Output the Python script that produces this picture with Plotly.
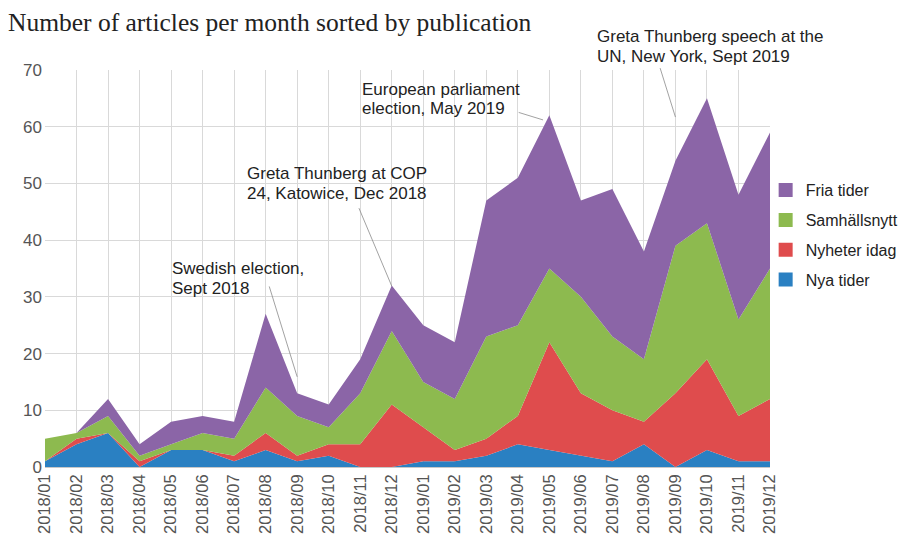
import plotly.graph_objects as go

months = ["2018/01", "2018/02", "2018/03", "2018/04", "2018/05", "2018/06",
          "2018/07", "2018/08", "2018/09", "2018/10", "2018/11", "2018/12",
          "2019/01", "2019/02", "2019/03", "2019/04", "2019/05", "2019/06",
          "2019/07", "2019/08", "2019/09", "2019/10", "2019/11", "2019/12"]

nya_tider = [1, 4, 6, 0, 3, 3, 1, 3, 1, 2, 0, 0, 1, 1, 2, 4, 3, 2, 1, 4, 0, 3, 1, 1]
nyheter_idag = [0, 1, 0, 1, 0, 0, 1, 3, 1, 2, 4, 11, 6, 2, 3, 5, 19, 11, 9, 4, 13, 16, 8, 11]
samhallsnytt = [4, 1, 3, 1, 1, 3, 3, 8, 7, 3, 9, 13, 8, 9, 18, 16, 13, 17, 13, 11, 26, 24, 17, 23]
fria_tider = [0, 0, 3, 2, 4, 3, 3, 13, 4, 4, 6, 8, 10, 10, 24, 26, 27, 17, 26, 19, 15, 22, 22, 24]

y_ticks = [0, 10, 20, 30, 40, 50, 60, 70]

series = [
    ("Nya tider", nya_tider, "#2A80C2"),
    ("Nyheter idag", nyheter_idag, "#DF4C4D"),
    ("Samhällsnytt", samhallsnytt, "#8DBA4F"),
    ("Fria tider", fria_tider, "#8B65A7"),
]

fig = go.Figure()
for name, vals, col in series:
    fig.add_trace(go.Scatter(
        x=months, y=vals, name=name, stackgroup="one", mode="lines",
        line=dict(width=0, color=col), fillcolor=col,
        showlegend=False, hoverinfo="x+y+name",
    ))
# legend entries with square swatches (top of stack listed first)
for name, vals, col in reversed(series):
    fig.add_trace(go.Scatter(
        x=[None], y=[None], name=name, mode="markers", legendgroup=name,
        marker=dict(symbol="square", size=14, color=col), showlegend=True,
    ))

text_font = dict(family="Liberation Sans, Arial, sans-serif", size=17, color="#222222")
line_col = "#8a8a8a"

def label(x, y, text, yref="y"):
    fig.add_annotation(x=x, y=y, xref="x", yref=yref, text=text, showarrow=False,
                       xanchor="left", yanchor="middle", align="left", font=text_font)

def pointer(x0, y0, x1, y1):
    fig.add_annotation(x=x1, y=y1, ax=x0, ay=y0, xref="x", yref="y", axref="x", ayref="y",
                       text="", showarrow=True, arrowhead=0, arrowwidth=0.8,
                       arrowcolor=line_col)

label(3.95, 35.0, "Swedish election,")
label(3.95, 31.48, "Sept 2018")
pointer(7.1, 32.1, 8.0, 15.9)
label(6.33, 51.67, "Greta Thunberg at COP")
label(6.33, 48.14, "24, Katowice, Dec 2018")
pointer(9.94, 45.9, 11.0, 31.9)
label(10.0, 66.65, "European parliament")
label(10.0, 63.13, "election, May 2019")
pointer(14.98, 62.6, 15.8, 61.2)
label(17.45, 1.0844, "Greta Thunberg speech at the", yref="paper")
label(17.45, 1.034, "UN, New York, Sept 2019", yref="paper")
pointer(19.5, 70.6, 20.0, 61.7)

fig.update_layout(
    width=899, height=533,
    margin=dict(l=37, r=137, t=62, b=74, autoexpand=False),
    paper_bgcolor="white", plot_bgcolor="white",
    title=dict(text="Number of articles per month sorted by publication",
               x=0.0, xanchor="left", y=0.9728, yanchor="middle", pad=dict(l=0, t=0, b=0, r=0),
               font=dict(family="Liberation Serif, Times New Roman, serif", size=25.5, color="#222222")),
    legend=dict(x=0.994, y=0.74, xanchor="left", yanchor="top", traceorder="grouped",
                font=dict(family="Liberation Sans, Arial, sans-serif", size=16, color="#222222"),
                bgcolor="rgba(0,0,0,0)", tracegroupgap=6),
    showlegend=True,
)
fig.update_xaxes(type="category", range=[0, 23], showgrid=True, gridcolor="#d9d9d9", gridwidth=1,
                 tickangle=-90, ticks="", showline=False, zeroline=False, automargin=False,
                 ticklabelstandoff=3,
                 tickfont=dict(family="Liberation Sans, Arial, sans-serif", size=16.5, color="#555555"))
fig.update_yaxes(range=[0, 70], tickvals=y_ticks, showgrid=True, gridcolor="#d9d9d9", gridwidth=1,
                 zeroline=True, zerolinecolor="#c8c8c8", showline=False, ticks="", automargin=False,
                 ticklabelstandoff=2,
                 tickfont=dict(family="Liberation Sans, Arial, sans-serif", size=17, color="#555555"))

fig.write_html("out.html")
